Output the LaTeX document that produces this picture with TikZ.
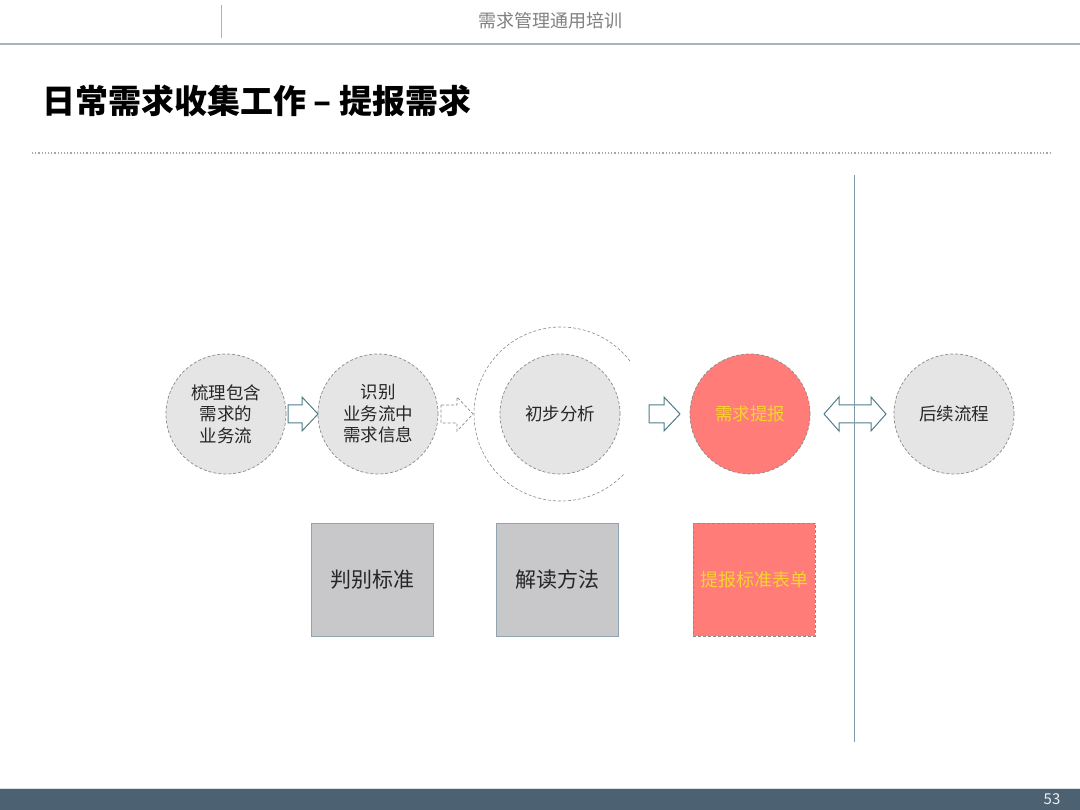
\documentclass[tikz,border=0pt]{standalone}
\usepackage{fontspec}
\setmainfont{Noto Sans CJK SC}
\usetikzlibrary{calc}
\definecolor{teal}{HTML}{4F7D8A}
\definecolor{circfill}{HTML}{E5E5E5}
\definecolor{dashgray}{HTML}{8A8A8A}
\definecolor{redfill}{HTML}{FF7C78}
\definecolor{yell}{HTML}{F7D330}
\definecolor{boxfill}{HTML}{C8C8CA}
\definecolor{boxline}{HTML}{8FA3B0}
\definecolor{barcol}{HTML}{4C6272}
\definecolor{vline}{HTML}{7F9AAD}
\definecolor{txt}{HTML}{262626}
\tikzset{
  circ/.style={circle, minimum size=120pt, inner sep=0pt, draw=dashgray, densely dashed, line width=0.7pt, fill=circfill, text=txt, font=\fontsize{17.5}{21.5}\selectfont, align=center},
  redcirc/.style={circ, fill=redfill, text=yell},
  sqbox/.style={rectangle, minimum width=122pt, minimum height=113pt, inner sep=0pt, fill=boxfill, draw=boxline, line width=0.8pt, text=txt, font=\fontsize{21}{24}\selectfont},
  redbox/.style={sqbox, fill=redfill, draw=dashgray, densely dashed, text=yell, font=\fontsize{18}{21}\selectfont},
  arrsolid/.style={draw=teal, line width=1pt, fill=white, line join=miter},
  arrdash/.style={draw=dashgray, densely dashed, line width=0.7pt, fill=white}
}
\newcommand\rarr[3]{%
  \draw[#1] (#2,405) -- ({#3-16},405) -- ({#3-16},397) -- (#3,414) -- ({#3-16},431) -- ({#3-16},423) -- (#2,423) -- cycle;}
\begin{document}
\begin{tikzpicture}[x=1pt,y=-1pt]
\useasboundingbox (0,0) rectangle (1080,810);
% header
\draw[draw=gray!60, line width=0.6pt] (221,5) -- (221,38);
\draw[draw=boxline!80, line width=1.5pt] (0,44) -- (1080,44);
\node[text=gray, font=\fontsize{18}{20}\selectfont] (hdr) at (550,21) {需求管理通用培训};
% title
\node[anchor=west, inner sep=0pt, font=\fontsize{33}{38}\bfseries\selectfont, text=black] (title) at (42,101) {日常需求收集工作 – 提报需求};
\draw[gray!70, dotted, line width=1.2pt] (32,153) -- (1050,153);
% vertical divider
\draw[vline, line width=1pt] (854,175) -- (854,742);
% outer arc
\draw[dashgray, densely dashed, line width=0.6pt] (561,414) ++(44:87) arc[start angle=44, end angle=323, radius=87];
% circles
\node[circ] (c1) at (226,414) {梳理包含\\需求的\\业务流};
\node[circ] (c2) at (378,414) {识别\\业务流中\\需求信息};
\node[circ] (c3) at (560,414) {初步分析};
\node[redcirc] (c4) at (750,414) {需求提报};
\node[circ] (c5) at (954,414) {后续流程};
% arrows
\rarr{arrsolid}{288}{318}
\rarr{arrdash}{441}{473}
\rarr{arrsolid}{649}{680}
\draw[arrsolid] (824,414) -- (839,397) -- (839,405) -- (871,405) -- (871,397) -- (886,414) -- (871,431) -- (871,423) -- (839,423) -- (839,431) -- cycle;
\draw[vline, line width=1pt] (854,404) -- (854,424);
% boxes
\node[sqbox] (b1) at (372,579.5) {判别标准};
\node[sqbox] (b2) at (557.5,579.5) {解读方法};
\node[redbox] (b3) at (754,579.5) {提报标准表单};
% footer
\fill[barcol] (0,788) rectangle (1080,810);
\draw[white!80!barcol, line width=0.8pt] (0,788) -- (1080,788);
\node[text=white!90!barcol, font=\fontsize{15}{17}\selectfont] (pg) at (1052,799) {53};
\end{tikzpicture}
\end{document}
